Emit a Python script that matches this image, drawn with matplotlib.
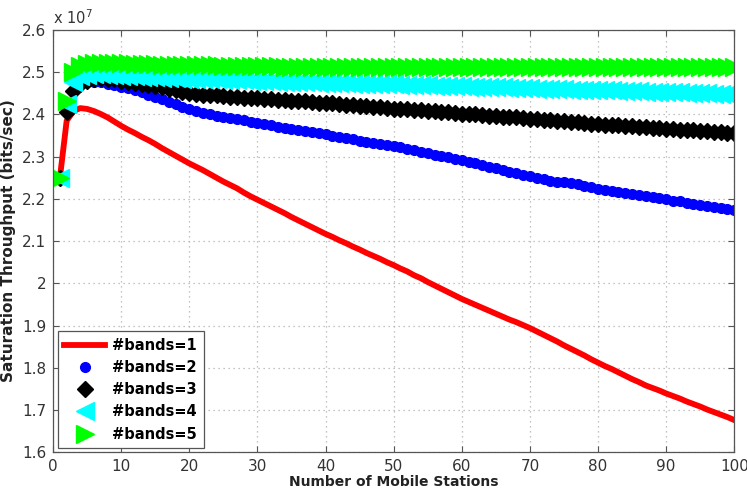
import numpy as np
import matplotlib
matplotlib.use("Agg")
import matplotlib.pyplot as plt

# number of mobile stations
stations = list(range(1, 101))

# saturation throughput, units of 1e7 bits/sec
bands1 = [2.249, 2.385, 2.408, 2.415, 2.413, 2.408, 2.401, 2.393, 2.383, 2.373,
          2.364, 2.356, 2.347, 2.339, 2.330, 2.320, 2.311, 2.302, 2.293, 2.284,
          2.276, 2.268, 2.259, 2.250, 2.241, 2.233, 2.225, 2.215, 2.206, 2.198,
          2.190, 2.182, 2.174, 2.166, 2.157, 2.149, 2.141, 2.133, 2.125, 2.117,
          2.110, 2.102, 2.095, 2.087, 2.080, 2.072, 2.065, 2.058, 2.050, 2.043,
          2.035, 2.028, 2.019, 2.012, 2.003, 1.995, 1.987, 1.979, 1.971, 1.963,
          1.956, 1.949, 1.942, 1.935, 1.928, 1.921, 1.914, 1.908, 1.901, 1.894,
          1.886, 1.878, 1.870, 1.862, 1.853, 1.845, 1.837, 1.829, 1.820, 1.812,
          1.804, 1.797, 1.789, 1.781, 1.773, 1.766, 1.758, 1.752, 1.746, 1.739,
          1.733, 1.727, 1.720, 1.714, 1.708, 1.701, 1.695, 1.689, 1.683, 1.676]

bands2 = [2.249, 2.408, 2.455, 2.472, 2.477, 2.478, 2.476, 2.473, 2.470, 2.466,
          2.462, 2.457, 2.452, 2.447, 2.442, 2.436, 2.430, 2.424, 2.418, 2.412,
          2.408, 2.404, 2.400, 2.397, 2.394, 2.391, 2.389, 2.386, 2.383, 2.380,
          2.377, 2.374, 2.371, 2.369, 2.366, 2.363, 2.360, 2.358, 2.356, 2.353,
          2.350, 2.347, 2.344, 2.341, 2.338, 2.335, 2.333, 2.330, 2.328, 2.325,
          2.322, 2.318, 2.315, 2.312, 2.309, 2.305, 2.302, 2.299, 2.295, 2.292,
          2.288, 2.284, 2.280, 2.276, 2.272, 2.268, 2.264, 2.261, 2.257, 2.253,
          2.250, 2.246, 2.243, 2.241, 2.240, 2.238, 2.235, 2.231, 2.227, 2.223,
          2.221, 2.219, 2.216, 2.214, 2.212, 2.209, 2.207, 2.204, 2.202, 2.199,
          2.196, 2.194, 2.191, 2.188, 2.186, 2.183, 2.181, 2.179, 2.176, 2.174]

bands3 = [2.249, 2.405, 2.456, 2.472, 2.480, 2.484, 2.486, 2.485, 2.483, 2.480,
          2.478, 2.475, 2.473, 2.470, 2.467, 2.464, 2.461, 2.458, 2.453, 2.450,
          2.449, 2.447, 2.446, 2.445, 2.443, 2.442, 2.441, 2.440, 2.439, 2.438,
          2.437, 2.436, 2.435, 2.434, 2.433, 2.432, 2.431, 2.430, 2.428, 2.427,
          2.426, 2.425, 2.423, 2.422, 2.421, 2.420, 2.418, 2.417, 2.416, 2.414,
          2.413, 2.412, 2.411, 2.410, 2.409, 2.407, 2.406, 2.405, 2.403, 2.402,
          2.401, 2.400, 2.398, 2.397, 2.396, 2.395, 2.394, 2.393, 2.391, 2.390,
          2.389, 2.388, 2.386, 2.385, 2.384, 2.383, 2.381, 2.380, 2.378, 2.377,
          2.376, 2.375, 2.374, 2.373, 2.372, 2.371, 2.370, 2.369, 2.367, 2.366,
          2.365, 2.364, 2.363, 2.362, 2.361, 2.360, 2.359, 2.358, 2.356, 2.355]

bands4 = [2.249, 2.425, 2.478, 2.490, 2.494, 2.495, 2.495, 2.494, 2.493, 2.491,
          2.490, 2.490, 2.489, 2.489, 2.488, 2.487, 2.487, 2.486, 2.485, 2.485,
          2.484, 2.484, 2.483, 2.483, 2.482, 2.482, 2.481, 2.481, 2.480, 2.480,
          2.479, 2.479, 2.478, 2.478, 2.477, 2.477, 2.476, 2.476, 2.475, 2.475,
          2.474, 2.474, 2.474, 2.473, 2.473, 2.472, 2.472, 2.472, 2.471, 2.471,
          2.470, 2.470, 2.470, 2.469, 2.469, 2.468, 2.468, 2.468, 2.467, 2.467,
          2.466, 2.466, 2.465, 2.465, 2.464, 2.464, 2.463, 2.463, 2.462, 2.462,
          2.461, 2.461, 2.460, 2.460, 2.460, 2.459, 2.459, 2.458, 2.458, 2.458,
          2.457, 2.457, 2.456, 2.456, 2.455, 2.455, 2.454, 2.454, 2.453, 2.453,
          2.452, 2.452, 2.451, 2.451, 2.450, 2.450, 2.449, 2.449, 2.448, 2.448]

bands5 = [2.249, 2.432, 2.500, 2.514, 2.520, 2.522, 2.523, 2.523, 2.522, 2.521,
          2.521, 2.520, 2.520, 2.519, 2.519, 2.518, 2.518, 2.518, 2.517, 2.517,
          2.517, 2.516, 2.516, 2.516, 2.515, 2.515, 2.515, 2.515, 2.514, 2.514,
          2.514, 2.514, 2.514, 2.513, 2.513, 2.513, 2.513, 2.513, 2.513, 2.513,
          2.512, 2.512, 2.512, 2.512, 2.512, 2.512, 2.512, 2.512, 2.512, 2.512,
          2.512, 2.513, 2.512, 2.512, 2.512, 2.513, 2.512, 2.512, 2.512, 2.513,
          2.512, 2.512, 2.513, 2.512, 2.512, 2.513, 2.512, 2.512, 2.513, 2.512,
          2.512, 2.513, 2.512, 2.512, 2.513, 2.512, 2.512, 2.513, 2.512, 2.512,
          2.513, 2.512, 2.512, 2.513, 2.512, 2.512, 2.513, 2.512, 2.512, 2.513,
          2.512, 2.512, 2.513, 2.512, 2.512, 2.513, 2.512, 2.512, 2.513, 2.512]

x_ticks = list(range(0, 101, 10))
y_ticks = [1.6, 1.7, 1.8, 1.9, 2.0, 2.1, 2.2, 2.3, 2.4, 2.5, 2.6]

plt.rcParams['font.family'] = ['DejaVu Sans']

fig = plt.figure(figsize=(7.47, 4.92), dpi=100)
ax = fig.add_axes([0.071, 0.081, 0.912, 0.858])

ax.plot(stations, bands1, '-', color='#ff0000', lw=4.2, label='#bands=1')
ax.plot(stations, bands2, 'o', color='#0000ff', ms=7, ls='none', label='#bands=2')
ax.plot(stations, bands3, 'D', color='#000000', ms=8, ls='none', label='#bands=3')
ax.plot(stations, bands4, '<', color='#00ffff', ms=12.5, ls='none', label='#bands=4')
ax.plot(stations, bands5, '>', color='#00ff00', ms=12.5, ls='none', label='#bands=5')

ax.set_xlim(0, 100)
ax.set_ylim(1.6, 2.6)
ax.set_xticks(x_ticks)
ax.set_yticks(y_ticks)
ax.set_yticklabels(['%g' % v for v in y_ticks])
ax.tick_params(direction='in', length=4, width=0.8, top=True, right=True,
               labelsize=11, colors='#555555', labelcolor='#333333', pad=5)
ax.grid(True, color='#b0b0b0', linestyle=(0, (1, 3)), linewidth=0.9)
for s in ax.spines.values():
    s.set_color('#555555')
    s.set_linewidth(0.9)

ax.set_xlabel('Number of Mobile Stations', fontsize=10, fontweight='bold',
              color='#222222', labelpad=1)
ax.set_ylabel('Saturation Throughput (bits/sec)', fontsize=11, fontweight='bold',
              color='#222222', labelpad=4)
ax.text(0.0, 1.006, r'x 10$^{7}$', transform=ax.transAxes, fontsize=10.5,
        color='#333333', ha='left', va='bottom')

leg = ax.legend(loc='lower left', bbox_to_anchor=(0.007, 0.009), borderaxespad=0,
                fancybox=False, framealpha=1, edgecolor='#555555',
                prop={'weight': 'bold', 'size': 10.5}, handlelength=2.8,
                labelspacing=0.5, borderpad=0.45, handletextpad=0.5)
leg.get_frame().set_linewidth(0.9)

fig.savefig('out.png', dpi=100)
